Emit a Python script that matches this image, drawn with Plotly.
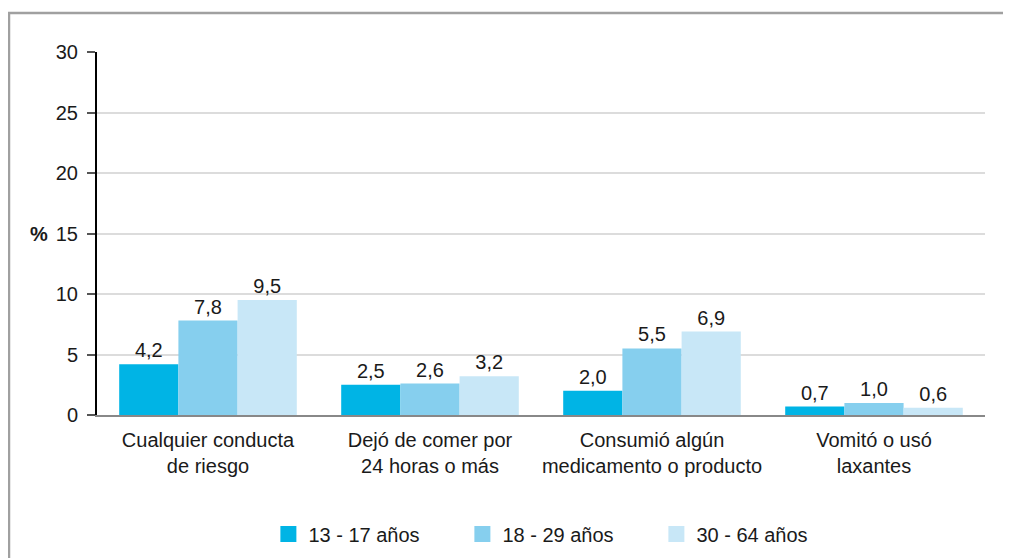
import plotly.graph_objects as go

categories = ["Cualquier conducta<br>de riesgo", "Dejó de comer por<br>24 horas o más",
              "Consumió algún<br>medicamento o producto", "Vomitó o usó<br>laxantes"]
series_names = ["13 - 17 años", "18 - 29 años", "30 - 64 años"]
v_13_17 = [4.2, 2.5, 2.0, 0.7]
v_18_29 = [7.8, 2.6, 5.5, 1.0]
v_30_64 = [9.5, 3.2, 6.9, 0.6]
colors = ["#00b4e5", "#86cfee", "#c8e7f7"]
y_ticks = [0, 5, 10, 15, 20, 25, 30]

FONT = "Liberation Sans, Arial, sans-serif"
FS = 20
fig = go.Figure()
for name, vals, col in zip(series_names, [v_13_17, v_18_29, v_30_64], colors):
    fig.add_trace(go.Bar(
        x=categories, y=vals, name=name, marker=dict(color=col, line=dict(width=0)),
        texttemplate="%{y:.1f}", textposition="outside", textangle=0,
        textfont=dict(size=FS, color="#1a1a1a", family=FONT), cliponaxis=False,
        showlegend=False,
    ))
# legend entries with larger square swatches
for name, col in zip(series_names, colors):
    fig.add_trace(go.Scatter(
        x=[None], y=[None], mode="markers", name=name,
        marker=dict(symbol="square", size=16, color=col, line=dict(width=0)),
    ))

# body has an 8px margin in the page, so the figure is offset by 8px
fig.update_layout(
    width=1003, height=550,
    margin=dict(l=89, r=26, t=44, b=143, autoexpand=False),
    paper_bgcolor="white", plot_bgcolor="white",
    barmode="group", bargap=0.2, bargroupgap=0,
    separators=",.",
    font=dict(family=FONT, size=FS, color="#1a1a1a"),
    showlegend=True,
    legend=dict(orientation="h", x=0.193, xanchor="left", y=-0.328, yanchor="middle",
                font=dict(size=FS), entrywidth=149, entrywidthmode="pixels",
                itemwidth=30, traceorder="normal"),
    uniformtext=dict(minsize=FS, mode="show"),
)
fig.update_yaxes(range=[0, 30], tickvals=y_ticks, showgrid=True, gridcolor="#dcdcdc", gridwidth=2,
                 showline=True, linecolor="black", linewidth=2, ticks="outside", ticklen=8,
                 tickcolor="#555555", tickwidth=2, zeroline=False, tickfont=dict(size=FS),
                 ticklabelstandoff=5, automargin=False)
fig.update_xaxes(showline=True, linecolor="#888888", linewidth=2, ticks="", tickfont=dict(size=FS),
                 ticklabelstandoff=6, automargin=False)

fig.add_annotation(text="<b>%</b>", xref="paper", yref="paper", x=-0.078, y=0.5,
                   showarrow=False, font=dict(size=FS, family=FONT, color="#1a1a1a"))
fig.add_shape(type="rect", xref="paper", yref="paper", x0=-0.0991, y0=-0.6, x1=1.2, y1=1.1074,
              line=dict(color="#a0a0a0", width=2.5), fillcolor="rgba(0,0,0,0)", layer="below")

fig.write_html("out.html")
